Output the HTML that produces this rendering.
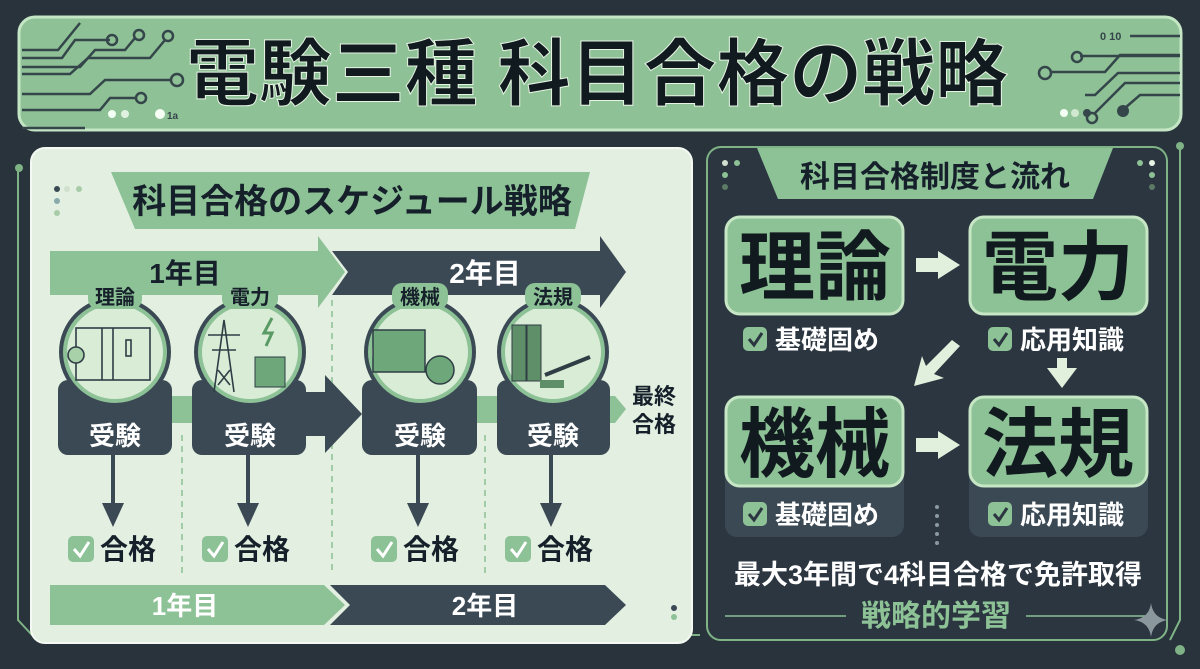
<!DOCTYPE html>
<html><head><meta charset="utf-8"><style>
html,body{margin:0;padding:0;background:#27323b;}
svg{display:block}
text{font-family:"Liberation Sans","Noto Sans CJK JP",sans-serif;font-weight:bold;}
</style></head><body>
<svg width="1200" height="669" viewBox="0 0 1200 669" xmlns="http://www.w3.org/2000/svg">
<rect width="1200" height="669" fill="#28333c"/>
<!-- Title banner -->
<rect x="19" y="17" width="1162" height="113" rx="16" fill="#8fc196" stroke="#c4e6c4" stroke-width="3"/>
<g stroke="#34464a" stroke-width="2.5" fill="none">
<path d="M22 50 H58 L80 23"/><path d="M22 58 H62 L75 40 H110"/><circle cx="112" cy="40" r="5"/>
<path d="M22 67 H80 L95 50 H125 L135 38"/><circle cx="139" cy="35" r="5"/>
<path d="M22 74 H70 L88 58 H150 L165 40"/><circle cx="168" cy="36" r="5"/>
<path d="M22 94 H90 L105 80 H172"/><circle cx="177" cy="80" r="6"/>
<path d="M22 110 H100 L110 98 H135"/><circle cx="141" cy="98" r="5"/>
<path d="M22 128 H85"/>
<path d="M1180 36 H1130"/><path d="M1180 55 H1120 L1105 72 H1050"/><circle cx="1045" cy="73" r="6"/>
<path d="M1080 56 H1180"/><circle cx="1077" cy="57" r="5"/>
<path d="M1180 73 H1118 L1095 95 H1085"/><path d="M1180 83 H1125 L1095 113"/><circle cx="1092" cy="118" r="5"/>
<path d="M1180 95 H1140 L1125 108"/>
</g>
<circle cx="1123" cy="111" r="6" fill="#34464a"/>
<circle cx="1064" cy="113" r="4" fill="#f2fff2"/><circle cx="1075" cy="113" r="4" fill="#cfe8cf"/><circle cx="1087" cy="113" r="4" fill="#34464a"/>
<circle cx="112" cy="114" r="4" fill="#f2fff2"/><circle cx="125" cy="114" r="4" fill="#e0f2df"/><circle cx="160" cy="114" r="5" fill="#f6fff6"/>
<text x="167" y="119" font-size="10" fill="#34464a" font-weight="normal">1a</text>
<text x="1100" y="40" font-size="11" fill="#34464a">0 10</text>
<text x="597" y="99" font-size="73" text-anchor="middle" fill="#111a1e" stroke="#e6f4e4" stroke-width="1" textLength="822" lengthAdjust="spacingAndGlyphs">電験三種 科目合格の戦略</text>

<!-- side lines -->
<path d="M18 170 V620 L32 635 H700" stroke="#7fb386" stroke-width="2" fill="none"/>
<circle cx="19" cy="168" r="4" fill="#7fb386"/>
<path d="M1180 148 V620 L1170 640" stroke="#7fb386" stroke-width="2" fill="none"/>
<circle cx="1180" cy="146" r="4" fill="#7fb386"/><circle cx="1180" cy="650" r="5" fill="#7fb386"/>

<!-- Left panel -->
<rect x="31" y="148" width="661" height="495" rx="14" fill="#e3f0e1" stroke="#f4faf3" stroke-width="2"/>
<path d="M111 172 H590 L575 229 H135 Z" fill="#8dc196"/>
<text x="352" y="213" font-size="34" text-anchor="middle" fill="#15202a">科目合格のスケジュール戦略</text>
<circle cx="57" cy="189" r="3" fill="#3a4a52"/><circle cx="67" cy="189" r="3" fill="#d0e0cf"/><circle cx="79" cy="189" r="3" fill="#a8cba8"/><circle cx="57" cy="201" r="3" fill="#8aa"/><circle cx="57" cy="213" r="3" fill="#a8cba8"/>
<!-- top arrows -->
<path d="M50 251 H318 V236 L345 272 L318 308 V295 H50 Z" fill="#8dc196"/>
<path d="M332 251 H600 V236 L626 272 L600 308 V295 H332 L348 272 Z" fill="#3b4955"/>
<text x="185" y="283" font-size="28" text-anchor="middle" fill="#15202a">1年目</text>
<text x="485" y="283" font-size="28" text-anchor="middle" fill="#ffffff">2年目</text>
<!-- dashed -->
<g stroke="#8dbf94" stroke-width="1.5" stroke-dasharray="6,5">
<path d="M332 300 V575"/><path d="M182 435 V575"/><path d="M485 435 V575"/>
</g>
<!-- middle arrows -->
<rect x="170" y="396" width="25" height="27" fill="#8dc196"/>
<path d="M305 392 H325 V375 L362 414 L325 453 V436 H305 Z" fill="#3b4955"/>
<rect x="475" y="396" width="25" height="27" fill="#8dc196"/>
<path d="M608 396 H615 L626 409 L615 423 H608 Z" fill="#8dc196"/>
<text x="654" y="404" font-size="22" text-anchor="middle" fill="#15202a">最終</text>
<text x="654" y="432" font-size="22" text-anchor="middle" fill="#15202a">合格</text>

<!-- column 1 -->
<g>
<rect x="58" y="380" width="114" height="75" rx="10" fill="#3b4955"/>
<ellipse cx="115" cy="352" rx="56" ry="55" fill="#3b4955"/>
<ellipse cx="115" cy="352" rx="50" ry="49" fill="#d9ecd6" stroke="#8dc196" stroke-width="4"/>
<rect x="88" y="283" width="54" height="26" rx="10" fill="#8dc196"/>
<text x="115" y="304" font-size="20" text-anchor="middle" fill="#15202a">理論</text>
<g stroke="#2f3d45" stroke-width="1.6" fill="none"><rect x="76" y="328" width="74" height="52"/><circle cx="76" cy="355" r="8" fill="#a9d1a9"/><rect x="126" y="340" width="5" height="16"/><path d="M102 328 V380 M113 328 V380"/></g>
<text x="115" y="445" font-size="26" text-anchor="middle" fill="#fff">受験</text>
<path d="M113 455 V505" stroke="#3b4955" stroke-width="4"/><path d="M102 503 H124 L113 527 Z" fill="#3b4955"/>
<rect x="68" y="536" width="26" height="26" rx="5" fill="#8dc196"/><path d="M74 549 L80 556 L89 542" stroke="#fff" stroke-width="3" fill="none"/>
<text x="128" y="559" font-size="28" text-anchor="middle" fill="#15202a">合格</text>
</g>
<!-- column 2 -->
<g>
<rect x="192" y="380" width="114" height="75" rx="10" fill="#3b4955"/>
<ellipse cx="250" cy="352" rx="56" ry="55" fill="#3b4955"/>
<ellipse cx="250" cy="352" rx="50" ry="49" fill="#d9ecd6" stroke="#8dc196" stroke-width="4"/>
<rect x="222" y="283" width="56" height="26" rx="10" fill="#8dc196"/>
<text x="250" y="304" font-size="20" text-anchor="middle" fill="#15202a">電力</text>
<g stroke="#2f3d45" stroke-width="1.6" fill="none"><path d="M214 392 L224 320 L234 392 M208 335 H240 M212 350 H236 M218 370 L230 385 M230 370 L218 385"/></g>
<rect x="255" y="357" width="30" height="30" fill="#6ea77a" stroke="#2f3d45"/>
<path d="M272 318 L264 333 H272 L266 346" stroke="#5a9a64" stroke-width="3" fill="none"/>
<text x="250" y="445" font-size="26" text-anchor="middle" fill="#fff">受験</text>
<path d="M248 455 V505" stroke="#3b4955" stroke-width="4"/><path d="M237 503 H259 L248 527 Z" fill="#3b4955"/>
<rect x="202" y="536" width="26" height="26" rx="5" fill="#8dc196"/><path d="M208 549 L214 556 L223 542" stroke="#fff" stroke-width="3" fill="none"/>
<text x="262" y="559" font-size="28" text-anchor="middle" fill="#15202a">合格</text>
</g>
<!-- column 3 -->
<g>
<rect x="362" y="380" width="115" height="75" rx="10" fill="#3b4955"/>
<ellipse cx="420" cy="352" rx="56" ry="55" fill="#3b4955"/>
<ellipse cx="420" cy="352" rx="50" ry="49" fill="#d9ecd6" stroke="#8dc196" stroke-width="4"/>
<rect x="392" y="283" width="56" height="26" rx="10" fill="#8dc196"/>
<text x="420" y="304" font-size="20" text-anchor="middle" fill="#15202a">機械</text>
<rect x="373" y="330" width="52" height="42" fill="#6ea77a" stroke="#2f3d45" stroke-width="1.5"/>
<circle cx="440" cy="370" r="14" fill="#6ea77a" stroke="#2f3d45" stroke-width="1.5"/>
<text x="420" y="445" font-size="26" text-anchor="middle" fill="#fff">受験</text>
<path d="M418 455 V505" stroke="#3b4955" stroke-width="4"/><path d="M407 503 H429 L418 527 Z" fill="#3b4955"/>
<rect x="371" y="536" width="26" height="26" rx="5" fill="#8dc196"/><path d="M377 549 L383 556 L392 542" stroke="#fff" stroke-width="3" fill="none"/>
<text x="431" y="559" font-size="28" text-anchor="middle" fill="#15202a">合格</text>
</g>
<!-- column 4 -->
<g>
<rect x="497" y="380" width="113" height="75" rx="10" fill="#3b4955"/>
<ellipse cx="553" cy="352" rx="56" ry="55" fill="#3b4955"/>
<ellipse cx="553" cy="352" rx="50" ry="49" fill="#d9ecd6" stroke="#8dc196" stroke-width="4"/>
<rect x="525" y="283" width="56" height="26" rx="10" fill="#8dc196"/>
<text x="553" y="304" font-size="20" text-anchor="middle" fill="#15202a">法規</text>
<rect x="512" y="325" width="14" height="56" fill="#5f8f68" stroke="#2f3d45"/><rect x="527" y="325" width="14" height="56" fill="#5f8f68" stroke="#2f3d45"/>
<path d="M545 375 L590 357" stroke="#2f3d45" stroke-width="4"/><rect x="540" y="380" width="24" height="8" fill="#5f8f68"/>
<text x="553" y="445" font-size="26" text-anchor="middle" fill="#fff">受験</text>
<path d="M551 455 V505" stroke="#3b4955" stroke-width="4"/><path d="M540 503 H562 L551 527 Z" fill="#3b4955"/>
<rect x="505" y="536" width="26" height="26" rx="5" fill="#8dc196"/><path d="M511 549 L517 556 L526 542" stroke="#fff" stroke-width="3" fill="none"/>
<text x="565" y="559" font-size="28" text-anchor="middle" fill="#15202a">合格</text>
</g>
<!-- bottom arrows -->
<path d="M50 585 H324 L345 605 L324 625 H50 Z" fill="#8dc196"/>
<path d="M330 585 H605 L626 605 L605 625 H330 L350 605 Z" fill="#3b4955"/>
<text x="185" y="615" font-size="26" text-anchor="middle" fill="#ffffff">1年目</text>
<text x="485" y="615" font-size="26" text-anchor="middle" fill="#ffffff">2年目</text>
<circle cx="674" cy="608" r="3" fill="#3b4955"/><circle cx="674" cy="617" r="3" fill="#8dc196"/>

<!-- Right panel -->
<rect x="707" y="147" width="460" height="493" rx="14" fill="#2b3640" stroke="#7fb386" stroke-width="2"/>
<path d="M757 148 H1113 L1093 199 H778 Z" fill="#8dc196"/>
<text x="935" y="187" font-size="30" text-anchor="middle" fill="#15202a">科目合格制度と流れ</text>
<circle cx="725" cy="163" r="3" fill="#cfe0cf"/><circle cx="737" cy="163" r="3" fill="#8dc196"/><circle cx="725" cy="175" r="3" fill="#8dc196"/><circle cx="725" cy="187" r="3" fill="#5c7a64"/>
<circle cx="1140" cy="163" r="3" fill="#8dc196"/><circle cx="1152" cy="163" r="3" fill="#e8f4e6"/><circle cx="1152" cy="175" r="3" fill="#8dc196"/><circle cx="1152" cy="187" r="3" fill="#5c7a64"/>
<rect x="725" y="420" width="179" height="117" rx="12" fill="#3b4955"/>
<rect x="969" y="420" width="179" height="117" rx="12" fill="#3b4955"/>
<g fill="#8dc196" stroke="#c7e6c5" stroke-width="3">
<rect x="726" y="217" width="177" height="97" rx="14"/>
<rect x="970" y="217" width="177" height="97" rx="14"/>
<rect x="726" y="397" width="177" height="89" rx="14"/>
<rect x="970" y="397" width="177" height="89" rx="14"/>
</g>
<g font-size="76" text-anchor="middle" fill="#111a1e">
<text x="815" y="294">理論</text><text x="1058" y="294">電力</text>
<text x="815" y="471">機械</text><text x="1058" y="471">法規</text>
</g>
<g fill="#e0f0dd">
<path d="M916 258 H938 V251 L960 265 L938 279 V272 H916 Z"/>
<path d="M916 438 H938 V431 L960 445 L938 459 V452 H916 Z"/>
<path d="M1057 358 H1067 V368 H1077 L1062 388 L1047 368 H1057 Z"/>
<path d="M960 346 L952 340 L926 366 L922 356 L914 386 L944 378 L934 374 Z"/>
</g>
<g>
<rect x="743" y="327" width="24" height="24" rx="5" fill="#8dc196"/><path d="M749 339 L754 345 L762 333" stroke="#2b3640" stroke-width="3" fill="none"/>
<text x="775" y="349" font-size="26" fill="#fff">基礎固め</text>
<rect x="988" y="327" width="24" height="24" rx="5" fill="#8dc196"/><path d="M994 339 L999 345 L1007 333" stroke="#2b3640" stroke-width="3" fill="none"/>
<text x="1020" y="349" font-size="26" fill="#fff">応用知識</text>
<rect x="743" y="502" width="24" height="24" rx="5" fill="#8dc196"/><path d="M749 514 L754 520 L762 508" stroke="#2b3640" stroke-width="3" fill="none"/>
<text x="775" y="524" font-size="26" fill="#fff">基礎固め</text>
<rect x="988" y="502" width="24" height="24" rx="5" fill="#8dc196"/><path d="M994 514 L999 520 L1007 508" stroke="#2b3640" stroke-width="3" fill="none"/>
<text x="1020" y="524" font-size="26" fill="#fff">応用知識</text>
</g>
<g fill="#8a9aa0"><circle cx="937" cy="507" r="2"/><circle cx="937" cy="516" r="2"/><circle cx="937" cy="525" r="2"/><circle cx="937" cy="534" r="2"/><circle cx="937" cy="543" r="2"/></g>
<text x="938" y="584" font-size="27" text-anchor="middle" fill="#fff">最大3年間で4科目合格で免許取得</text>
<path d="M725 616 H846 M1026 616 H1150" stroke="#8dc196" stroke-width="1.5"/>
<text x="936" y="626" font-size="30" text-anchor="middle" fill="#8dc196">戦略的学習</text>
<path d="M1151 603 Q1153 618 1168 620 Q1153 622 1151 637 Q1149 622 1134 620 Q1149 618 1151 603 Z" fill="#8a979c"/>
</svg>
</body></html>
